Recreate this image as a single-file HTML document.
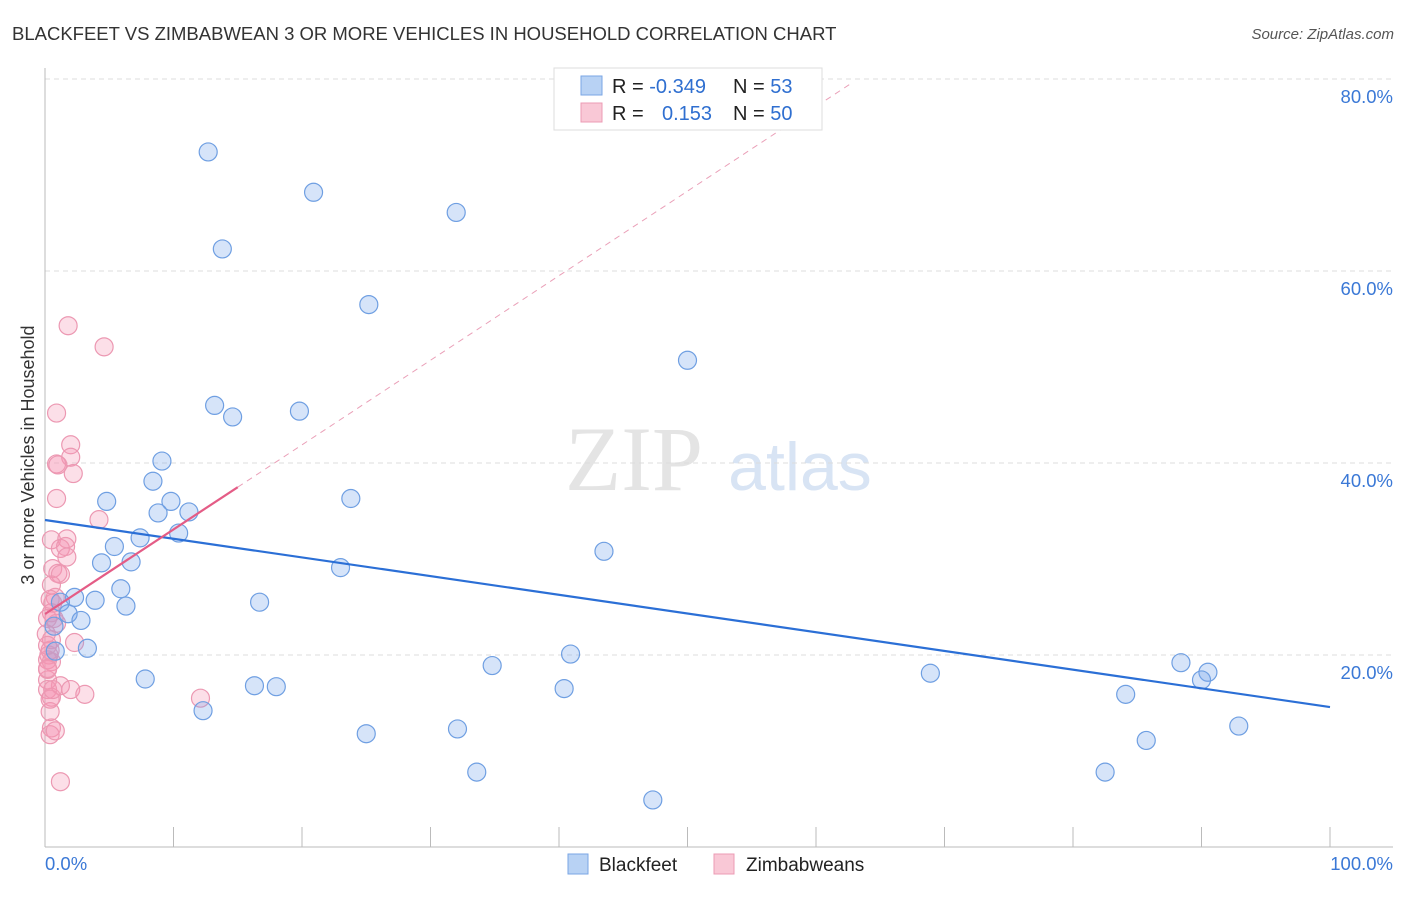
<!DOCTYPE html>
<html><head><meta charset="utf-8"><style>
body{margin:0;background:#fff;font-family:"Liberation Sans",sans-serif;}
</style></head><body>
<svg id="chart" width="1406" height="892" xmlns="http://www.w3.org/2000/svg" style="font-family:'Liberation Sans',sans-serif">
<text x="12" y="40" font-size="18.5" fill="#333">BLACKFEET VS ZIMBABWEAN 3 OR MORE VEHICLES IN HOUSEHOLD CORRELATION CHART</text>
<text x="1394" y="39" font-size="15" fill="#555" font-style="italic" text-anchor="end">Source: ZipAtlas.com</text>
<text x="634" y="490" font-size="92" fill="#e4e4e4" font-family="Liberation Serif,serif" text-anchor="middle">ZIP</text>
<text x="800" y="490" font-size="68" fill="#d8e4f4" text-anchor="middle">atlas</text>
<text transform="translate(34,455) rotate(-90)" font-size="18" fill="#333" text-anchor="middle">3 or more Vehicles in Household</text>
<g id="grid"></g><g id="marks"></g>
<g>
<rect x="554" y="68" width="268" height="62" fill="#fff" stroke="#ddd"/>
<rect x="581" y="76" width="21" height="19" fill="#b8d2f4" stroke="#7aa6e4"/>
<rect x="581" y="103" width="21" height="19" fill="#f9c8d6" stroke="#ec9bb4"/>
<text x="612" y="93" font-size="20" fill="#222">R = <tspan fill="#2f6fd0">-0.349</tspan><tspan x="733">N = </tspan><tspan fill="#2f6fd0">53</tspan></text>
<text x="612" y="120" font-size="20" fill="#222">R = <tspan x="662" fill="#2f6fd0">0.153</tspan><tspan x="733">N = </tspan><tspan fill="#2f6fd0">50</tspan></text>
</g>
<g>
<rect x="568" y="854" width="20" height="20" fill="#b8d2f4" stroke="#7aa6e4"/>
<text x="599" y="871" font-size="19" fill="#222">Blackfeet</text>
<rect x="714" y="854" width="20" height="20" fill="#f9c8d6" stroke="#ec9bb4"/>
<text x="746" y="871" font-size="19" fill="#222">Zimbabweans</text>
</g>
</svg>
<script>
const yTicks=[20,40,60,80];
const yTickLabels=["20.0%","40.0%","60.0%","80.0%"];
const xTickValues=[0,10,20,30,40,50,60,70,80,90,100];
const blueX=[12.7,20.9,32,13.8,25.2,50,13.2,14.6,19.8,9.1,8.4,4.8,9.8,23.8,8.8,11.2,10.4,7.4,5.4,6.7,4.4,23,43.5,5.9,3.9,2.3,6.3,16.7,1.2,1.8,2.8,0.7,0.8,3.3,40.9,34.8,88.4,90.5,90,68.9,7.8,16.3,18,40.4,84.1,12.3,25,32.1,92.9,85.7,33.6,82.5,47.3];
const blueY=[72.4,68.2,66.1,62.3,56.5,50.7,46,44.8,45.4,40.2,38.1,36,36,36.3,34.8,34.9,32.7,32.2,31.3,29.7,29.6,29.1,30.8,26.9,25.7,26,25.1,25.5,25.5,24.3,23.6,23,20.4,20.7,20.1,18.9,19.2,18.2,17.4,18.1,17.5,16.8,16.7,16.5,15.9,14.2,11.8,12.3,12.6,11.1,7.8,7.8,4.9];
const pinkX=[1.8,4.6,0.9,2,2,0.9,1,2.2,0.9,4.2,0.5,1.7,1.2,1.6,1.7,0.6,1,1.2,0.5,0.8,0.6,0.5,0.9,2.3,0.5,0.4,0.2,0.3,0.5,0.2,1.2,2,3.1,0.2,0.5,12.1,0.4,0.5,0.4,0.8,1.2,0.2,0.1,0.2,0.4,0.7,0.4,0.2,0.2,0.6];
const pinkY=[54.3,52.1,45.2,41.9,40.6,39.9,39.8,38.9,36.3,34.1,32,32.1,31.1,31.3,30.2,29,28.5,28.4,27.3,26,25.4,24.4,23.3,21.3,21.6,20.5,19.5,20,19.3,17.4,16.8,16.4,15.9,16.4,15.6,15.5,14.1,12.4,11.7,12.1,6.8,23.8,22.2,18.5,25.8,23.8,15.4,21,18.6,16.4];
const blueTrend=[34.06,14.58];
const pinkTrend=[24.27,0.881];
const NS="http://www.w3.org/2000/svg";
const sx=v=>45+v*12.85, sy=v=>847-v*9.6;
function el(t,a,p){const e=document.createElementNS(NS,t);for(const k in a)e.setAttribute(k,a[k]);p.appendChild(e);return e;}
const grid=document.getElementById('grid'), marks=document.getElementById('marks');
yTicks.forEach((v,i)=>{
 const l=el('line',{x1:45,x2:1393,y1:sy(v),y2:sy(v),stroke:'#ddd','stroke-dasharray':'5,4'},grid);
 
 
 const t=el('text',{x:1393,y:sy(v)+24,'font-size':18.5,fill:'#3a78d6','text-anchor':'end'},grid);t.textContent=yTickLabels[i];
 
 
});
const ax=el('line',{x1:45,x2:45,y1:68,y2:847,stroke:'#bbb'},grid);


const bx=el('line',{x1:45,x2:1393,y1:847,y2:847,stroke:'#bbb'},grid);


xTickValues.forEach(v=>{const t=el('line',{x1:sx(v),x2:sx(v),y1:827,y2:847,stroke:'#bbb'},grid);
 
 });
const xl0=el('text',{x:45,y:870,'font-size':18.5,fill:'#3a78d6'},grid);xl0.textContent='0.0%';


const xl1=el('text',{x:1393,y:870,'font-size':18.5,fill:'#3a78d6','text-anchor':'end'},grid);xl1.textContent='100.0%';


pinkX.forEach((x,i)=>{const c=el('circle',{cx:sx(x),cy:sy(pinkY[i]),r:9,fill:'rgba(244,150,180,0.3)',stroke:'#ec98b2','stroke-width':1.2},marks);
 
 });
blueX.forEach((x,i)=>{const c=el('circle',{cx:sx(x),cy:sy(blueY[i]),r:9,fill:'rgba(120,165,235,0.3)',stroke:'#6f9fe2','stroke-width':1.2},marks);
 
 });
const bl=el('line',{x1:sx(0),y1:sy(blueTrend[0]),x2:sx(100),y2:sy(blueTrend[1]),stroke:'#2b6fd6','stroke-width':2.2},marks);


const pl=el('line',{x1:sx(0),y1:sy(pinkTrend[0]),x2:sx(15),y2:sy(pinkTrend[0]+15*pinkTrend[1]),stroke:'#e45c86','stroke-width':2.2},marks);


const pd=el('line',{x1:sx(15),y1:sy(pinkTrend[0]+15*pinkTrend[1]),x2:sx(62.6),y2:sy(pinkTrend[0]+62.6*pinkTrend[1]),stroke:'#eaa0b8','stroke-width':1,'stroke-dasharray':'6,5'},marks);


</script>
</body></html>
